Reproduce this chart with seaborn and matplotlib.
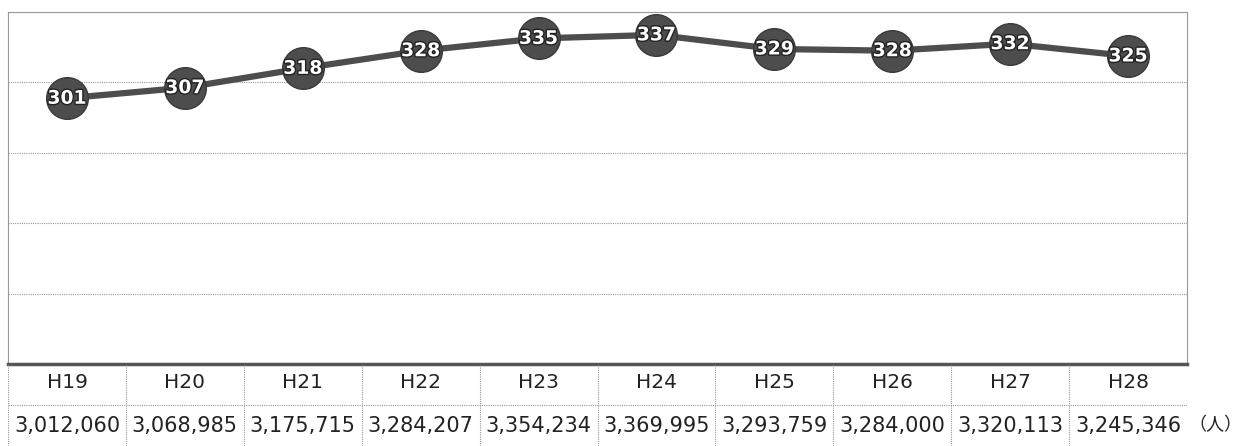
import numpy as np
import pandas as pd
import matplotlib
matplotlib.use("Agg")
import matplotlib.pyplot as plt
import matplotlib.patheffects as pe
import seaborn as sns

# data
years = ["H19", "H20", "H21", "H22", "H23", "H24", "H25", "H26", "H27", "H28"]
index_values = [301, 307, 318, 328, 335, 337, 329, 328, 332, 325]
people = [3012060, 3068985, 3175715, 3284207, 3354234, 3369995,
          3293759, 3284000, 3320113, 3245346]

df = pd.DataFrame({"pos": np.arange(len(years)), "value": index_values})

sns.set_style("white")
plt.rcParams['font.family'] = ['DejaVu Sans', 'Noto Sans CJK JP']

W, H = 1246, 446
fig = plt.figure(figsize=(W / 100, H / 100), dpi=100)

left, right = 8, 1187
top_px, bot_px = 12, 364
ax = fig.add_axes([left / W, 1 - bot_px / H, (right - left) / W, (bot_px - top_px) / H])

line_col = "#4d4d4d"
sns.lineplot(data=df, x="pos", y="value", ax=ax, color=line_col, linewidth=4.5,
             marker="o", markersize=30, markerfacecolor=line_col,
             markeredgecolor="#3a3a3a", markeredgewidth=1)

for x, v in zip(df["pos"], df["value"]):
    ax.text(x, v, str(v), ha="center", va="center", color="white",
            fontsize=13.5, fontweight="bold", zorder=5,
            path_effects=[pe.withStroke(linewidth=2, foreground="#222222")])

ax.set_xlim(-0.5, len(years) - 0.5)
ax.set_ylim(150, 350)
ax.set_yticks(np.arange(150, 351, 40))
ax.set_xticks([])
ax.set_yticklabels([])
ax.tick_params(length=0)
ax.set_xlabel("")
ax.set_ylabel("")
ax.yaxis.grid(True, color="#999999", linestyle=(0, (1, 1)), linewidth=0.8)
ax.set_axisbelow(True)
for s in ["left", "right", "top"]:
    ax.spines[s].set_color("#999999")
    ax.spines[s].set_linestyle((0, (1, 1)))
    ax.spines[s].set_linewidth(0.8)
ax.spines["bottom"].set_color("#555555")
ax.spines["bottom"].set_linewidth(2.5)

# data table below
tab = fig.add_axes([left / W, 0, (right - left) / W, (H - bot_px) / H])
tab.set_xlim(-0.5, len(years) - 0.5)
tab.set_ylim(0, H - bot_px)
tab.axis("off")
grid_kw = dict(color="#999999", linestyle=(0, (1, 1)), linewidth=0.8)
for b in np.arange(-0.5, len(years), 1.0):
    tab.axvline(b, **grid_kw)
tab.axhline(41, **grid_kw)
for i, (yr, p) in enumerate(zip(years, people)):
    tab.text(i, 63, yr, ha="center", va="center", fontsize=14.5, color="#222222")
    tab.text(i, 20, f"{p:,}", ha="center", va="center", fontsize=15, color="#222222")

fig.text(1242 / W, 1 - 425 / H, "（人）", ha="right", va="center", fontsize=13,
         family=["Noto Sans CJK JP", "DejaVu Sans"], color="#222222")

fig.savefig("out.png", dpi=100)
